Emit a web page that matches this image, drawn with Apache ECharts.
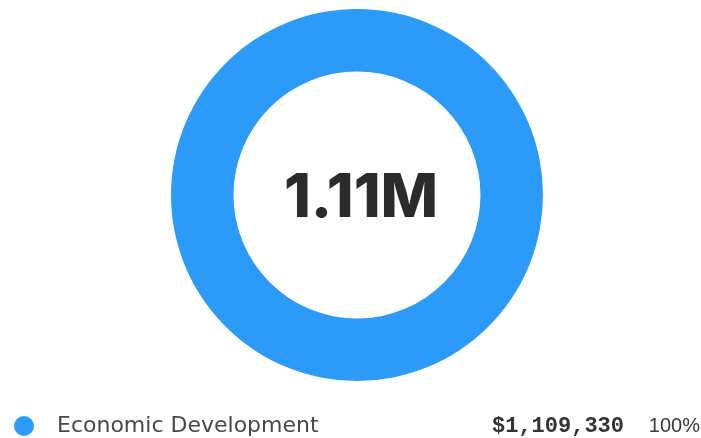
<!DOCTYPE html>
<html>
<head>
<meta charset="utf-8">
<script src="https://cdn.jsdelivr.net/npm/echarts@6/dist/echarts.min.js"></script>
<style>
  html, body { margin: 0; padding: 0; background: #fff; }
  #chart { width: 701px; height: 438px; }
</style>
</head>
<body>
<div id="chart"></div>
<script>
// Spending by category
const categories = ['Economic Development'];
const amounts = [1109330];
const colors = ['#2b9af9'];

const total = amounts.reduce((a, b) => a + b, 0);

function shortNumber(v) {
  if (v >= 1e6) return (v / 1e6).toFixed(2) + 'M';
  if (v >= 1e3) return (v / 1e3).toFixed(1) + 'K';
  return String(v);
}
function money(v) {
  return '$' + v.toLocaleString('en-US');
}

const chart = echarts.init(document.getElementById('chart'), null, { renderer: 'canvas' });

chart.setOption({
  animation: false,
  color: colors,
  title: {
    text: shortNumber(total),
    left: 361,
    top: 199,
    padding: 0,
    textAlign: 'center',
    textVerticalAlign: 'middle',
    textStyle: {
      fontFamily: 'Inter',
      fontWeight: 800,
      fontSize: 61,
      color: '#2b2b2b',
      letterSpacing: -2.5
    }
  },
  legend: {
    orient: 'vertical',
    left: 14,
    top: 415,
    padding: 0,
    icon: 'circle',
    itemWidth: 20,
    itemHeight: 20,
    selectedMode: false,
    formatter: function (name) {
      const i = categories.indexOf(name);
      const pct = Math.round(amounts[i] / total * 100) + '%';
      return '{n|' + name + '}{v|' + money(amounts[i]) + '}{p|' + pct + '}';
    },
    textStyle: {
      rich: {
        n: {
          fontFamily: 'DejaVu Sans',
          fontSize: 22,
          color: '#484848',
          width: 435,
          lineHeight: 20,
          padding: [0, 0, 0, 18]
        },
        v: {
          fontFamily: 'Liberation Mono',
          fontWeight: 'bold',
          fontSize: 22,
          color: '#333333',
          width: 132,
          lineHeight: 20,
          align: 'right'
        },
        p: {
          fontFamily: 'Liberation Sans',
          fontSize: 20,
          color: '#3a3a3a',
          width: 76,
          lineHeight: 20,
          align: 'right'
        }
      }
    }
  },
  series: [{
    type: 'pie',
    center: [357, 195],
    radius: [123.5, 186],
    label: { show: false },
    labelLine: { show: false },
    emphasis: { disabled: true },
    data: categories.map((c, i) => ({ name: c, value: amounts[i] }))
  }]
});
</script>
</body>
</html>
